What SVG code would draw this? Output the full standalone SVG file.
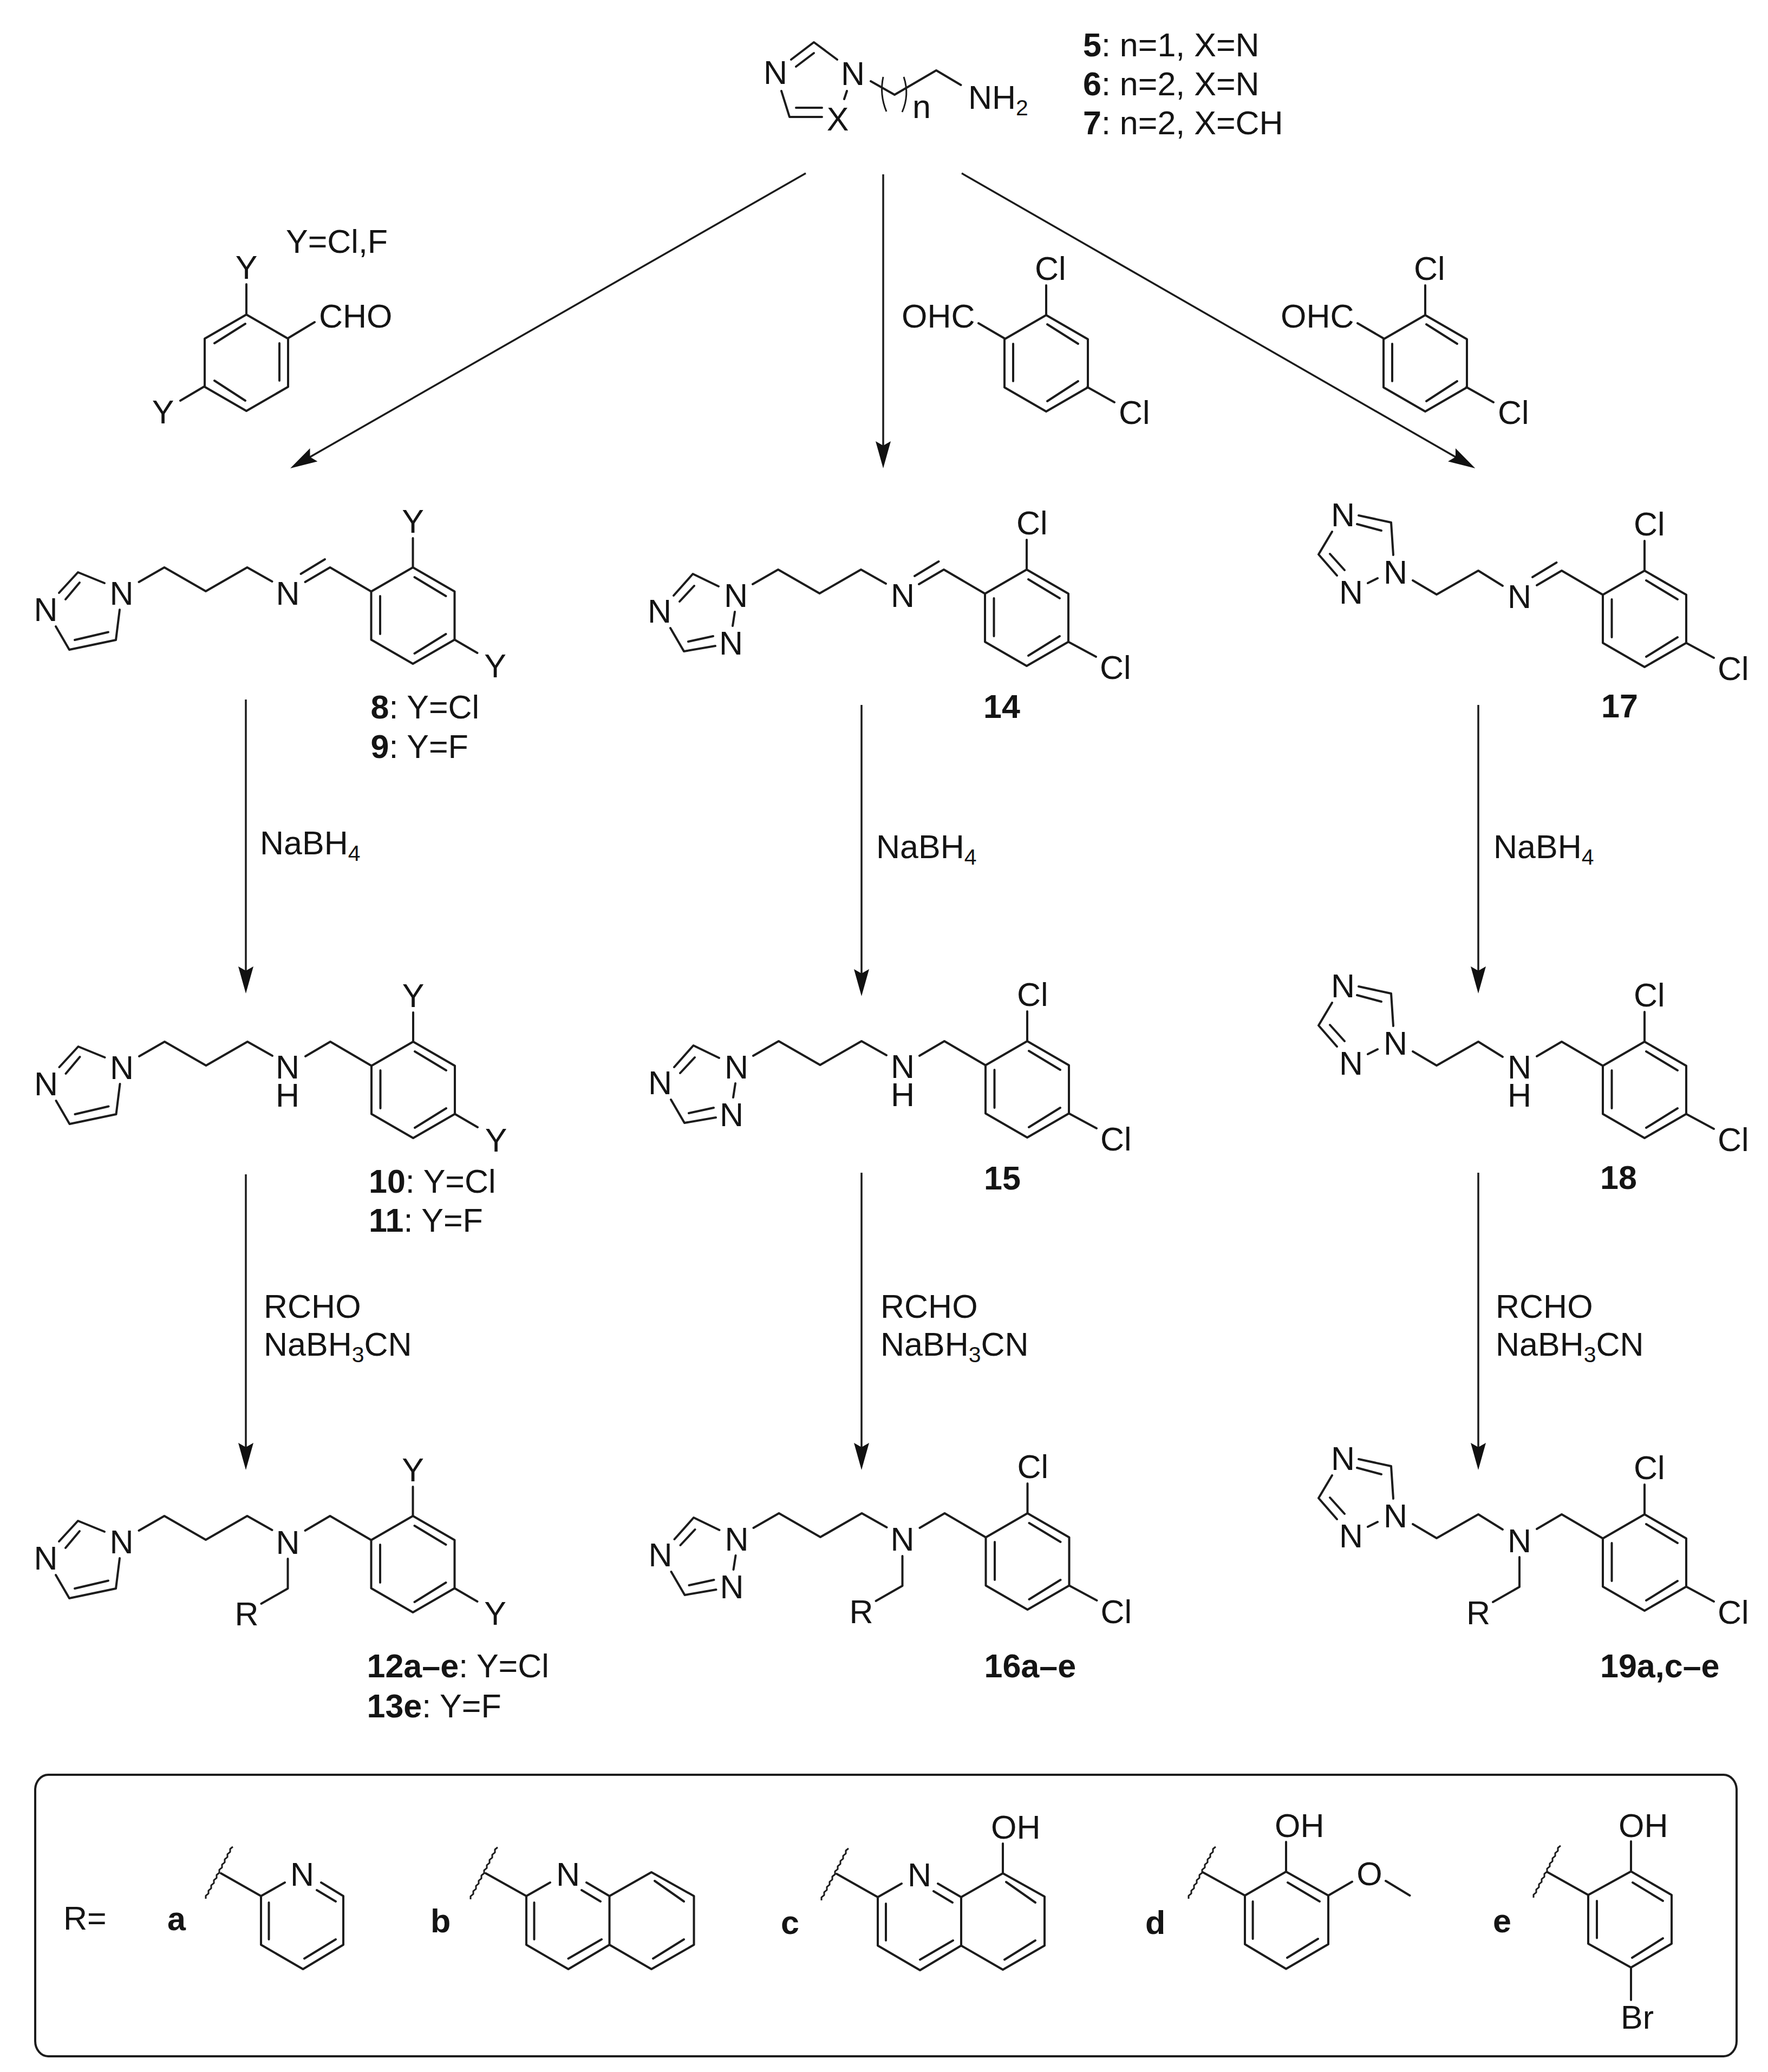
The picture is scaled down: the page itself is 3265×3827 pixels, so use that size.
<svg xmlns="http://www.w3.org/2000/svg" width="3265" height="3827" viewBox="0 0 3265 3827">
<style>
text{font-family:"Liberation Sans",Arial,sans-serif;font-size:61px;fill:#141414}
.m{text-anchor:middle}
.b{font-weight:bold}
.s{font-size:41px}
.bond,.bond path,use.bond{fill:none;stroke:#1c1c1c;stroke-width:4;stroke-linecap:round;stroke-linejoin:round}
.thin{fill:none;stroke:#1c1c1c;stroke-width:3;stroke-linejoin:round}
.arrow{stroke:#1c1c1c;stroke-width:3.5;fill:none}
</style>
<defs>
<marker id="head" viewBox="-32 -16 54 32" refX="0" refY="0" markerWidth="54" markerHeight="32" markerUnits="userSpaceOnUse" orient="auto"><path d="M20 0L-30 -14L-22 0L-30 14Z" fill="#111"/></marker>
<path id="ring" d="M-77 44.5L0 0L77 44.5V133.5L0 178L-77 133.5ZM3 18L61 53M61 123L3 159M-60.5 53V123"/>
<path id="propyl" d="M-506 27L-459 0L-382.5 44L-306 0L-260 26"/>
<path id="ethyl" d="M-428 18L-384 44L-307 0L-262 28"/>
<path id="imine" d="M-199 27L-153 0L-77 44.5M-207 12L-162.5 -15"/>
<path id="amine" d="M-199 27L-153 0L-77 44.5"/>
<path id="nr" d="M-231 79V134L-280 162"/>
<path id="subY" d="M0 -54V0M77 133.5L119 158"/>
<path id="subCl" d="M0 -55V0M77 133.5L128 161"/>
<path id="imid" d="M-569.5 29L-618.5 9L-653.5 47M-615.5 28L-641.5 59M-659.5 109L-634.5 152L-548.5 134L-541.5 78M-624.5 134L-562.5 119.5"/>
<path id="triazA" d="M-569 31L-616.5 8L-652 48M-614 30L-641 59M-658 108L-633 151L-575 141M-625 133L-579 123M-539 78L-543 104"/>
<path id="triazB" d="M-464 -29L-468 -89L-528 -102M-486 -74L-531 -86M-577 -72L-602 -30L-568 9M-581 -31L-554 -1M-511 23L-493 14"/>
<path id="wavy" d="M0 0l-5 4v5.6l-5 4v5.6l-5 4v5.6l-5 4v5.6l-5 4v5.6l-5 4v5.6l-5 4v5.6l-5 4v5.6l-5 4v5.6l-5 4v5.6"/>
<path id="cho" d="M-77 44.5L0 0L77 44.5V133.5L0 178L-77 133.5ZM2 17L59 53M59 122L2 159M-61 53V122"/>
</defs>
<rect width="3265" height="3827" fill="#fff"/>

<g id="connectors">
<line class="arrow" x1="1488" y1="320" x2="553.4" y2="855" marker-end="url(#head)"/>
<line class="arrow" x1="1631" y1="322" x2="1631" y2="845" marker-end="url(#head)"/>
<line class="arrow" x1="1776" y1="320" x2="2707" y2="855" marker-end="url(#head)"/>
<line class="arrow" x1="454" y1="1292" x2="454" y2="1815" marker-end="url(#head)"/>
<line class="arrow" x1="1591" y1="1302" x2="1591" y2="1820" marker-end="url(#head)"/>
<line class="arrow" x1="2730" y1="1302" x2="2730" y2="1815" marker-end="url(#head)"/>
<line class="arrow" x1="454" y1="2169" x2="454" y2="2695" marker-end="url(#head)"/>
<line class="arrow" x1="1591" y1="2166" x2="1591" y2="2695" marker-end="url(#head)"/>
<line class="arrow" x1="2730" y1="2166" x2="2730" y2="2695" marker-end="url(#head)"/>
</g>

<g id="reagents">
<text x="480" y="1578">NaBH<tspan class="s" dy="12">4</tspan></text>
<text x="1618" y="1585">NaBH<tspan class="s" dy="12">4</tspan></text>
<text x="2758" y="1585">NaBH<tspan class="s" dy="12">4</tspan></text>
<text x="487" y="2434">RCHO</text>
<text x="487" y="2504">NaBH<tspan class="s" dy="12">3</tspan><tspan dy="-12">CN</tspan></text>
<text x="1626" y="2434">RCHO</text>
<text x="1626" y="2504">NaBH<tspan class="s" dy="12">3</tspan><tspan dy="-12">CN</tspan></text>
<text x="2762" y="2434">RCHO</text>
<text x="2762" y="2504">NaBH<tspan class="s" dy="12">3</tspan><tspan dy="-12">CN</tspan></text>
</g>

<g id="start-amine">
<path class="bond" d="M1546 110L1503 78L1461 110M1503 98L1470 123M1443 168L1458 216L1518 216M1470 199L1518 199M1564 168L1559 183M1608 150L1652 175L1729 130L1774.5 157"/>
<path class="thin" d="M1631 142Q1624 175 1637 206M1669 142Q1680 175 1666 207"/>
<text class="m" x="1432" y="155">N</text>
<text class="m" x="1575" y="157">N</text>
<text class="m" x="1547" y="241">X</text>
<text x="1685" y="218">n</text>
<text x="1788" y="201">NH<tspan class="s" dy="12">2</tspan></text>
<text x="2000" y="104"><tspan class="b">5</tspan>: n=1, X=N</text>
<text x="2000" y="176"><tspan class="b">6</tspan>: n=2, X=N</text>
<text x="2000" y="248"><tspan class="b">7</tspan>: n=2, X=CH</text>
</g>

<g id="aldehyde-Y">
<g class="bond" transform="translate(455 581)"><use href="#cho" transform="scale(-1 1)"/><path d="M0 -56V0M78 43L126 14M-78 133L-122 159"/></g>
<text x="528" y="467">Y=Cl,F</text>
<text class="m" x="455" y="515">Y</text>
<text x="589" y="605">CHO</text>
<text class="m" x="301" y="782">Y</text>
</g>

<g id="aldehyde-Cl-1">
<g class="bond" transform="translate(1932 582)"><use href="#cho"/><path d="M0 -55V0M-77 43L-125 15M76 133L126 161"/></g>
<text x="1911" y="517">Cl</text>
<text x="1665" y="605">OHC</text>
<text x="2066" y="783">Cl</text>
</g>

<g id="aldehyde-Cl-2">
<g class="bond" transform="translate(2632 582)"><use href="#cho"/><path d="M0 -55V0M-77 43L-125 15M76 133L126 161"/></g>
<text x="2611" y="517">Cl</text>
<text x="2365" y="605">OHC</text>
<text x="2766" y="783">Cl</text>
</g>

<g id="compound-8-9" transform="translate(762.5 1048)">
<g class="bond"><use href="#ring"/><use href="#subY"/><use href="#propyl"/><use href="#imine"/><use href="#imid"/></g>
<text class="m" x="-538" y="69">N</text><text class="m" x="-678" y="99">N</text><text class="m" x="-231" y="69">N</text>
<text class="m" x="0" y="-64">Y</text><text class="m" x="152" y="203">Y</text>
<text x="-78" y="279"><tspan class="b">8</tspan>: Y=Cl</text>
<text x="-78" y="352"><tspan class="b">9</tspan>: Y=F</text>
</g>

<g id="compound-10-11" transform="translate(763 1924)">
<g class="bond"><use href="#ring"/><use href="#subY"/><use href="#propyl"/><use href="#amine"/><use href="#imid"/></g>
<text class="m" x="-538" y="69">N</text><text class="m" x="-678" y="99">N</text><text class="m" x="-232" y="68">N<tspan x="-232" dy="52">H</tspan></text>
<text class="m" x="0" y="-64">Y</text><text class="m" x="153" y="203">Y</text>
<text x="-82" y="279"><tspan class="b">10</tspan>: Y=Cl</text>
<text x="-82" y="351"><tspan class="b">11</tspan>: Y=F</text>
</g>

<g id="compound-12-13" transform="translate(762.5 2800)">
<g class="bond"><use href="#ring"/><use href="#subY"/><use href="#propyl"/><use href="#amine"/><use href="#nr"/><use href="#imid"/></g>
<text class="m" x="-538" y="69">N</text><text class="m" x="-678" y="99">N</text><text class="m" x="-231" y="70">N</text>
<text class="m" x="-307" y="202">R</text>
<text class="m" x="0" y="-64">Y</text><text class="m" x="152" y="201">Y</text>
<text x="-85" y="298"><tspan class="b">12a–e</tspan>: Y=Cl</text>
<text x="-85" y="372"><tspan class="b">13e</tspan>: Y=F</text>
</g>

<g id="compound-14" transform="translate(1896 1052)">
<g class="bond"><use href="#ring"/><use href="#subCl"/><use href="#propyl"/><use href="#imine"/><use href="#triazA"/></g>
<text class="m" x="-537" y="69">N</text><text class="m" x="-678" y="98">N</text><text class="m" x="-546" y="157">N</text><text class="m" x="-229" y="69">N</text>
<text x="-19" y="-65">Cl</text><text x="135" y="202">Cl</text>
<text class="b" x="-80" y="274">14</text>
</g>

<g id="compound-15" transform="translate(1897 1923)">
<g class="bond"><use href="#ring"/><use href="#subCl"/><use href="#propyl"/><use href="#amine"/><use href="#triazA"/></g>
<text class="m" x="-537" y="69">N</text><text class="m" x="-678" y="98">N</text><text class="m" x="-546" y="157">N</text><text class="m" x="-230" y="68">N<tspan x="-230" dy="52">H</tspan></text>
<text x="-19" y="-65">Cl</text><text x="135" y="202">Cl</text>
<text class="b" x="-80" y="274">15</text>
</g>

<g id="compound-16" transform="translate(1897.5 2795)">
<g class="bond"><use href="#ring"/><use href="#subCl"/><use href="#propyl"/><use href="#amine"/><use href="#nr"/><use href="#triazA"/></g>
<text class="m" x="-537" y="69">N</text><text class="m" x="-678" y="98">N</text><text class="m" x="-546" y="157">N</text><text class="m" x="-231" y="69">N</text>
<text class="m" x="-307" y="203">R</text>
<text x="-19" y="-65">Cl</text><text x="135" y="203">Cl</text>
<text class="b" x="-80" y="303">16a–e</text>
</g>

<g id="compound-17" transform="translate(3037 1054)">
<g class="bond"><use href="#ring"/><use href="#subCl"/><use href="#ethyl"/><use href="#imine"/><use href="#triazB"/></g>
<text class="m" x="-460" y="24">N</text><text class="m" x="-557" y="-82">N</text><text class="m" x="-542" y="61">N</text><text class="m" x="-231" y="69">N</text>
<text x="-20" y="-65">Cl</text><text x="135" y="202">Cl</text>
<text class="b" x="-80" y="271">17</text>
</g>

<g id="compound-18" transform="translate(3037 1924)">
<g class="bond"><use href="#ring"/><use href="#subCl"/><use href="#ethyl"/><use href="#amine"/><use href="#triazB"/></g>
<text class="m" x="-460" y="24">N</text><text class="m" x="-557" y="-82">N</text><text class="m" x="-542" y="61">N</text><text class="m" x="-231" y="68">N<tspan x="-231" dy="52">H</tspan></text>
<text x="-20" y="-65">Cl</text><text x="135" y="202">Cl</text>
<text class="b" x="-82" y="272">18</text>
</g>

<g id="compound-19" transform="translate(3037 2797)">
<g class="bond"><use href="#ring"/><use href="#subCl"/><use href="#ethyl"/><use href="#amine"/><use href="#nr"/><use href="#triazB"/></g>
<text class="m" x="-460" y="24">N</text><text class="m" x="-557" y="-82">N</text><text class="m" x="-542" y="61">N</text><text class="m" x="-231" y="70">N</text>
<text class="m" x="-307" y="203">R</text>
<text x="-20" y="-65">Cl</text><text x="135" y="202">Cl</text>
<text class="b" x="-82" y="301">19a,c–e</text>
</g>

<g id="r-groups">
<rect class="bond" x="65" y="3278" width="3142" height="520" rx="24" ry="28"/>
<text x="117" y="3564">R=</text>
</g>

<g id="r-a">
<use class="thin" href="#wavy" transform="translate(430 3411)"/>
<path class="bond" d="M408 3460L482 3502M526 3477L482 3502V3592L559.5 3637L634 3592V3502L593 3477M585 3491L620 3512M620 3582L562 3617.5M496.5 3514V3582"/>
<text class="m" x="558" y="3483">N</text>
<text class="b" x="309" y="3565">a</text>
</g>

<g id="r-b">
<use class="thin" href="#wavy" transform="translate(919 3412)"/>
<path class="bond" d="M897 3460L972 3502L1016 3477M1083 3477L1125.5 3502V3592L1049.5 3637L972 3592V3502M1125.5 3502L1203 3458L1281.5 3502V3592L1203 3637L1125.5 3592M1074 3491L1109 3512M1111 3582L1049.5 3617.5M986.5 3514V3582M1209 3474L1263 3512M1263 3582L1206 3617.5"/>
<text class="m" x="1049" y="3483">N</text>
<text class="b" x="795" y="3569">b</text>
</g>

<g id="r-c">
<use class="thin" href="#wavy" transform="translate(1567 3414)"/>
<path class="bond" d="M1545 3461L1621 3504L1665 3479M1732 3479L1775 3504V3593.5L1699 3639L1621 3593.5V3504M1775 3504L1852 3460L1929 3503V3593.5L1852 3638L1775 3593.5M1852 3405V3460M1724 3493L1759 3514M1760 3584L1699 3619.5M1636 3516V3584M1858 3476L1912 3514M1912 3584L1855 3619.5"/>
<text class="m" x="1698" y="3484">N</text>
<text x="1830" y="3396">OH</text>
<text class="b" x="1442" y="3572">c</text>
</g>

<g id="r-d">
<use class="thin" href="#wavy" transform="translate(2245 3411)"/>
<path class="bond" d="M2221 3458L2299 3501M2299 3501L2375 3457L2453 3501V3591L2375 3636.5L2299 3591V3501M2375 3402V3457M2378 3477L2437 3512M2313.6 3512V3581M2434 3581L2377 3616M2453 3501L2497 3475.5M2559 3474L2603.5 3501"/>
<text class="m" x="2529" y="3482">O</text>
<text x="2354" y="3393">OH</text>
<text class="b" x="2115" y="3572">d</text>
</g>

<g id="r-e">
<use class="thin" href="#wavy" transform="translate(2882 3409)"/>
<path class="bond" d="M2858 3458L2933 3500M2933 3500L3012 3456.5L3087 3500V3590L3012 3634L2933 3590V3500M3012 3401V3456.5M3015 3477L3071 3511M2949 3511V3579.5M3071 3580L3014 3616M3012 3634V3694"/>
<text x="2989" y="3393">OH</text>
<text x="2993" y="3747">Br</text>
<text class="b" x="2757" y="3569">e</text>
</g>
</svg>
